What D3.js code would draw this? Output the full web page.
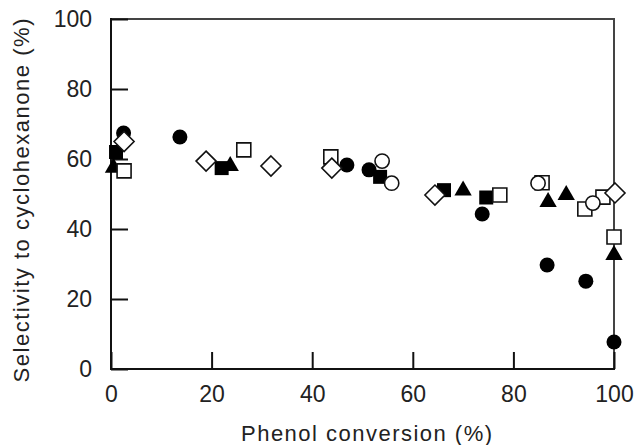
<!DOCTYPE html>
<html>
<head>
<meta charset="utf-8">
<script src="https://cdn.jsdelivr.net/npm/d3@7"></script>
<style>
  html, body { margin: 0; padding: 0; background: #fff; }
  svg { display: block; }
</style>
</head>
<body>
<svg id="chart" width="642" height="445"></svg>
<script>
// ---- data ----
const xTicks = [0, 20, 40, 60, 80, 100];
const yTicks = [0, 20, 40, 60, 80, 100];
const xTitle = "Phenol conversion (%)";
const yTitle = "Selectivity to cyclohexanone (%)";

const filledCircleX = [2.5, 13.7, 46.9, 51.3, 73.8, 86.7, 94.4, 100];
const filledCircleY = [67.4, 66.3, 58.3, 56.9, 44.3, 29.7, 25.1, 7.7];

const filledSquareX = [1, 22, 53.5, 66.2, 74.6];
const filledSquareY = [62, 57.4, 54.9, 51.1, 49];

const filledTriangleX = [0.5, 23.7, 70, 86.9, 90.5, 100];
const filledTriangleY = [57.5, 58, 51, 47.7, 49.7, 32.6];

const openSquareX = [2.6, 26.4, 43.7, 77.3, 85.7, 94.2, 97.8, 100];
const openSquareY = [56.6, 62.6, 60.6, 49.7, 53.2, 45.7, 49.1, 37.7];

const openCircleX = [53.9, 55.8, 84.9, 95.8];
const openCircleY = [59.4, 53.1, 53.1, 47.4];

const openDiamondX = [2.6, 18.9, 31.8, 43.9, 64.4, 100.2];
const openDiamondY = [65, 59.4, 58, 57.4, 49.7, 50.3];

// ---- layout ----
const svg = d3.select("#chart");
const mLeft = 111, mRight = 614, mTop = 19, mBottom = 369;
const x = d3.scaleLinear().domain([0, 100]).range([mLeft, mRight]);
const y = d3.scaleLinear().domain([0, 100]).range([mBottom, mTop]);
const textColor = "#222";
const fontFamily = "'Liberation Sans', Arial, sans-serif";

// frame
svg.append("rect")
  .attr("x", mLeft).attr("y", mTop)
  .attr("width", mRight - mLeft).attr("height", mBottom - mTop)
  .attr("fill", "none").attr("stroke", "#444").attr("stroke-width", 2);
svg.append("line").attr("x1", mLeft).attr("x2", mLeft).attr("y1", mTop - 1).attr("y2", mBottom + 1)
  .attr("stroke", "#111").attr("stroke-width", 2);
svg.append("line").attr("x1", mLeft - 1).attr("x2", mRight + 1).attr("y1", mBottom).attr("y2", mBottom)
  .attr("stroke", "#111").attr("stroke-width", 2);

// axes
const gx = svg.append("g").attr("transform", `translate(0,${mBottom})`)
  .call(d3.axisBottom(x).tickValues(xTicks).tickSize(-17).tickPadding(17).tickFormat(d3.format("d")));
const gy = svg.append("g").attr("transform", `translate(${mLeft},0)`)
  .call(d3.axisLeft(y).tickValues(yTicks).tickSize(-17).tickPadding(19).tickFormat(d3.format("d")));
[gx, gy].forEach(g => {
  g.select(".domain").remove();
  g.selectAll(".tick line").attr("stroke", "#111").attr("stroke-width", 2);
  g.selectAll(".tick text").attr("fill", textColor)
    .style("font-family", fontFamily).style("font-size", "23px");
});

// titles
svg.append("text")
  .attr("x", (mLeft + mRight) / 2 + 4).attr("y", 441)
  .attr("text-anchor", "middle")
  .attr("fill", textColor)
  .style("font-family", fontFamily).style("font-size", "22px")
  .attr("textLength", 251).attr("lengthAdjust", "spacing")
  .text(xTitle);
svg.append("text")
  .attr("transform", `translate(29,${(mTop + 382) / 2}) rotate(-90)`)
  .attr("text-anchor", "middle")
  .attr("fill", textColor)
  .style("font-family", fontFamily).style("font-size", "22px")
  .attr("textLength", 364).attr("lengthAdjust", "spacing")
  .text(yTitle);

// markers
function zip(xs, ys) { return xs.map((v, i) => ({ x: v, y: ys[i] })); }
const series = [
  { data: zip(filledSquareX, filledSquareY), type: d3.symbolSquare, size: 196, fill: "#000", stroke: "none" },
  { data: zip(filledTriangleX, filledTriangleY), type: d3.symbolTriangle, size: 130, fill: "#000", stroke: "none" },
  { data: zip(filledCircleX, filledCircleY), type: d3.symbolCircle, size: 177, fill: "#000", stroke: "none" },
  { data: zip(openSquareX, openSquareY), type: d3.symbolSquare, size: 196, fill: "#fff", stroke: "#111" },
  { data: zip(openCircleX, openCircleY), type: d3.symbolCircle, size: 160, fill: "#fff", stroke: "#111" },
  { data: zip(openDiamondX, openDiamondY), type: "diamond", size: 10, fill: "#fff", stroke: "#111" }
];
const diamondPath = r => `M0,${-r}L${r},0L0,${r}L${-r},0Z`;
series.forEach(s => {
  const d = s.type === "diamond" ? diamondPath(s.size) : d3.symbol().type(s.type).size(s.size)();
  svg.append("g").selectAll("path").data(s.data).join("path")
    .attr("transform", p => `translate(${x(p.x)},${y(p.y)})`)
    .attr("d", d)
    .attr("fill", s.fill)
    .attr("stroke", s.stroke)
    .attr("stroke-width", s.stroke === "none" ? 0 : 1.6);
});
</script>
</body>
</html>
